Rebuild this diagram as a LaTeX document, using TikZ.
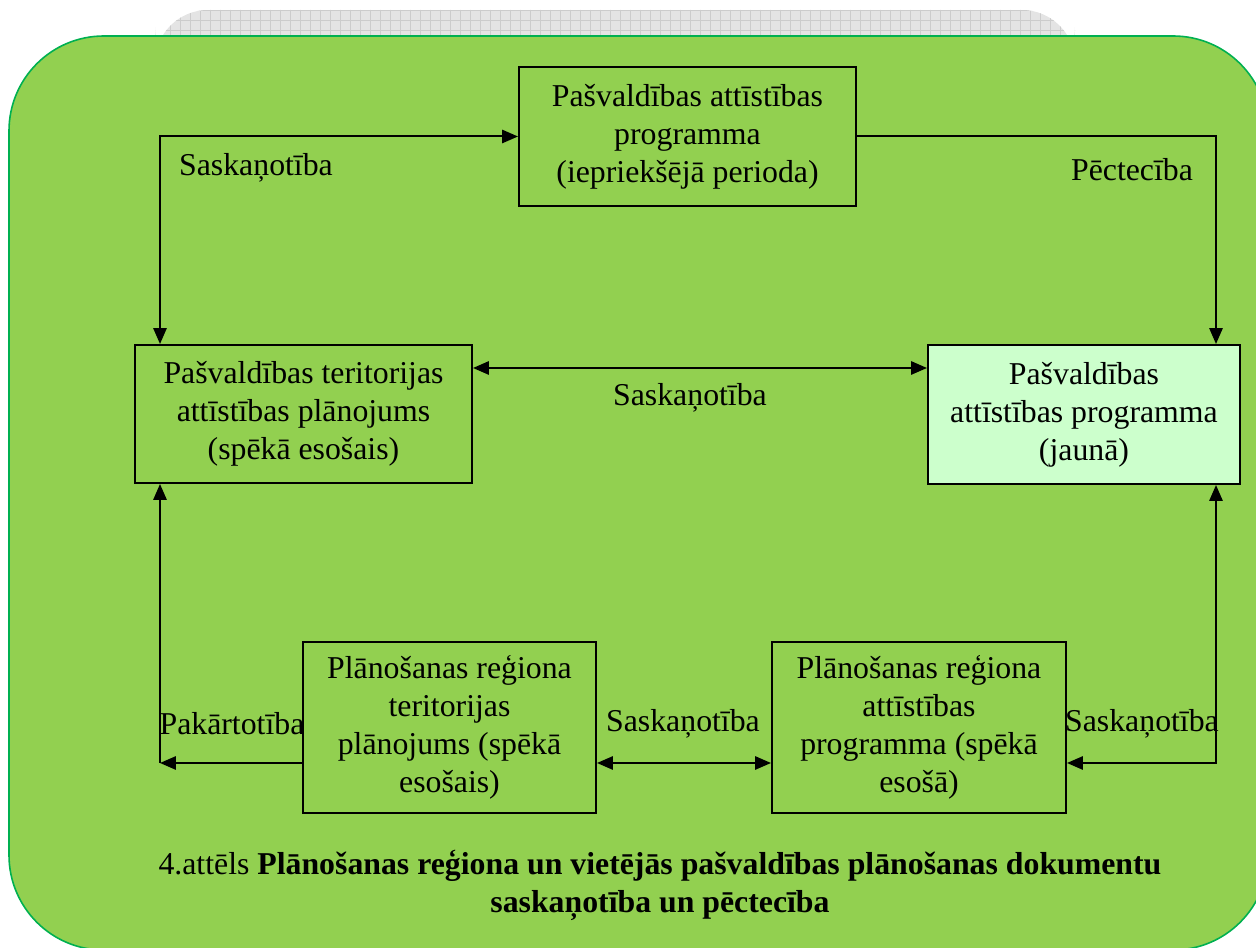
\documentclass[tikz,border=0pt]{standalone}
\usepackage{fontspec}
\setmainfont{Liberation Serif}
\usepackage{xcolor}
\usetikzlibrary{positioning}
\usetikzlibrary{arrows.meta}
\definecolor{bggreen}{HTML}{92D050}
\definecolor{bgline}{HTML}{00B050}
\definecolor{newbox}{HTML}{CCFFCC}
\definecolor{gridgrey}{HTML}{E4E4E4}
\definecolor{gridline}{HTML}{CCCCCC}
\newcommand{\pxu}{0.3774pt}

\begin{document}
\begin{tikzpicture}[x=\pxu, y=-\pxu, >={Triangle[length=6pt,width=5pt]}, line width=0.75pt, font=\fontsize{12}{14.3}\selectfont]
		\tikzstyle{block}=[draw=black,rectangle,fill=bggreen,align=center,inner sep=0pt]
		\tikzstyle{lbl}=[inner sep=0pt]
		\useasboundingbox (0,0) rectangle (1256,948);
		
		% grey sheet behind
		\begin{scope}
		\clip[rounded corners=20pt] (155,10) rectangle (1075,80);
		\fill[gridgrey] (155,10) rectangle (1075,80);
		\draw[gridline, line width=0.3pt, step=3.774pt] (140,0) grid (1090,80);
		\end{scope}
		% green panel
		\draw[draw=bgline, fill=bggreen, line width=0.6pt, rounded corners=35.8pt] (9,36) rectangle (1268,950);
		
		\node[block, minimum width=337*\pxu, minimum height=139*\pxu] (prev) at (687.5,136.5) {Pašvaldības attīstības\\programma\\(iepriekšējā perioda)};
		\node[block, minimum width=337*\pxu, minimum height=138*\pxu] (ptap) at (303.5,414) {Pašvaldības teritorijas\\attīstības plānojums\\(spēkā esošais)};
		\node[block, fill=newbox, minimum width=312*\pxu, minimum height=139*\pxu] (new) at (1084,414.5) {Pašvaldības\\attīstības programma\\(jaunā)};
		\node[block, minimum width=293*\pxu, minimum height=171*\pxu] (prtp) at (449.5,727.5) {Plānošanas reģiona\\teritorijas\\plānojums (spēkā\\esošais)};
		\node[block, minimum width=294*\pxu, minimum height=171*\pxu] (prap) at (919,727.5) {Plānošanas reģiona\\attīstības\\programma (spēkā\\esošā)};
		
		\coordinate (lrail) at (160,763);
		\coordinate (rrail) at (1216,763);
		\coordinate (midrow) at (700,368);
		
		\draw[<->] (prev.west) -| (lrail |- ptap.north);
		\draw[->] (prev.east) -| (rrail |- new.north);
		\draw[<->] (ptap.east |- midrow) -- (new.west |- midrow);
		\draw[->] (prtp.west |- lrail) -- (lrail);
		\draw[->] (lrail) -- (lrail |- ptap.south);
		\draw[<->] (prtp.east |- lrail) -- (prap.west |- lrail);
		\draw[<->] (prap.east |- rrail) -| (rrail |- new.south);
		
		\node[lbl] (l1) at (256,168) {Saskaņotība};
		\node[lbl] (l2) at (1132,170) {Pēctecība};
		\node[lbl] (l3) at (690,398) {Saskaņotība};
		\node[lbl] (l4) at (232,724) {Pakārtotība};
		\node[lbl] (l5) at (683,724) {Saskaņotība};
		\node[lbl] (l6) at (1142,724) {Saskaņotība};
		
		\node[align=center, inner sep=0pt] (cap) at (660,885) {4.attēls \textbf{Plānošanas reģiona un vietējās pašvaldības plānošanas dokumentu}\\\textbf{saskaņotība un pēctecība}};
		\end{tikzpicture}
\end{document}
